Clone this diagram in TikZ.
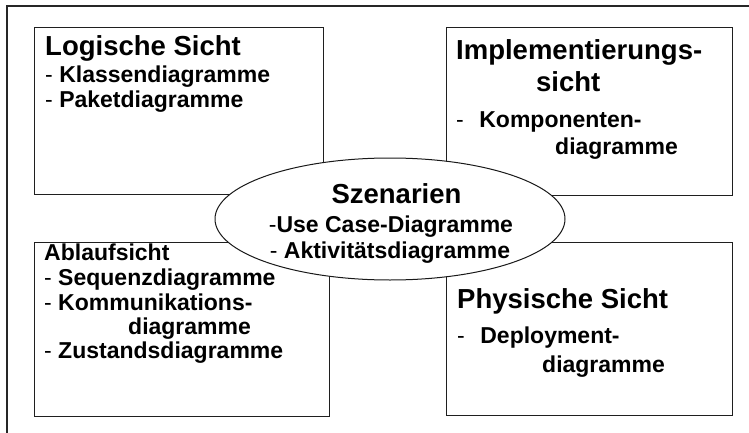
\documentclass[tikz,border=0pt]{standalone}
\usepackage{fontspec}
\setmainfont{Liberation Sans}
\usetikzlibrary{shapes.geometric}
\newcommand\thindash{{\mdseries -}}
\tikzset{
  view/.style={draw=black!88, line width=1.4pt, rectangle, inner sep=0pt, anchor=north west, fill=none},
  head/.style={anchor=base west, inner sep=0pt, text=black, font=\fontsize{27.5}{30}\selectfont\bfseries},
  item/.style={anchor=base west, inner sep=0pt, text=black, font=\fontsize{23}{25}\selectfont\bfseries},
  ctr/.style={anchor=base, inner sep=0pt, text=black},
}
\begin{document}
\begin{tikzpicture}[x=1pt,y=-1pt]
\useasboundingbox (0,0) rectangle (749,433);
% outer frame (top and left edges only)
\coordinate (fbl) at (7,433);
\coordinate (ftl) at (7,6);
\coordinate (ftr) at (749,6);
\draw[line width=1.6pt, black!85] (fbl) -- (ftl) -- (ftr);

% view boxes
\node[view, minimum width=289pt, minimum height=167pt] (b1) at (34,27) {};
\node[view, minimum width=286pt, minimum height=168pt] (b2) at (446,27) {};
\node[view, minimum width=295pt, minimum height=174pt] (b3) at (34,242) {};
\node[view, minimum width=286pt, minimum height=173pt] (b4) at (446,242) {};

% scenarios ellipse
\node[ellipse, draw=black!90, line width=1pt, fill=white, minimum width=350pt, minimum height=122pt, inner sep=0pt] (sz) at (390,219) {};

% Logische Sicht
\node[head] (t1) at (45,56) {Logische Sicht};
\node[item] (t1a) at (45,83) {\thindash{} Klassendiagramme};
\node[item] (t1b) at (45,107) {\thindash{} Paketdiagramme};

% Implementierungssicht
\node[head] (t2) at (456,60) {Implementierungs-};
\node[head] (t2b) at (536,92) {sicht};
\node[item] (t2c) at (456,128) {\thindash\hspace{15.5pt}Komponenten-};
\node[item] (t2d) at (555,154) {diagramme};

% Ablaufsicht
\node[item] (t3) at (44,260) {Ablaufsicht};
\node[item] (t3a) at (44,285) {\thindash{} Sequenzdiagramme};
\node[item] (t3b) at (44,310) {\thindash{} Kommunikations-};
\node[item] (t3c) at (128,334) {diagramme};
\node[item] (t3d) at (44,358) {\thindash{} Zustandsdiagramme};

% Physische Sicht
\node[head] (t4) at (457,308) {Physische Sicht};
\node[item] (t4a) at (457,343) {\thindash\hspace{15.5pt}Deployment-};
\node[item] (t4b) at (542,372) {diagramme};

% Szenarien text
\node[ctr, font=\fontsize{27.5}{30}\selectfont\bfseries] (s0) at (396.5,203) {Szenarien};
\node[ctr, font=\fontsize{23}{25}\selectfont\bfseries] (s1) at (391,232) {\thindash Use Case-Diagramme};
\node[ctr, font=\fontsize{23}{25}\selectfont\bfseries] (s2) at (390,258) {\thindash{} Aktivitätsdiagramme};
\end{tikzpicture}
\end{document}
